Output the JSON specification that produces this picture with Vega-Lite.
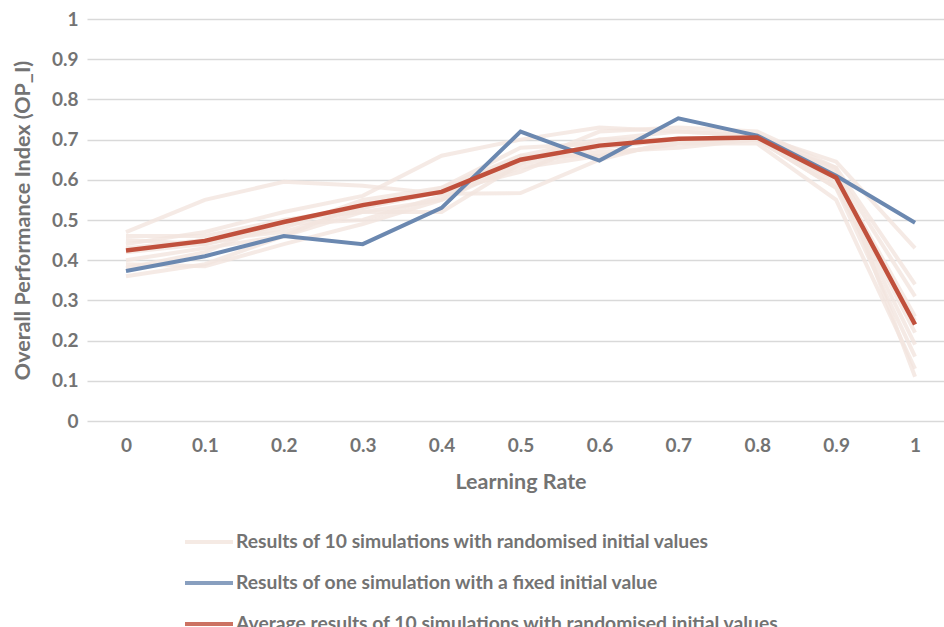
{
  "$schema": "https://vega.github.io/schema/vega-lite/v6.json",
  "width": 857,
  "height": 402,
  "autosize": {"type": "none"},
  "padding": {"left": 87, "top": 19, "right": 0, "bottom": 206},
  "background": "white",
  "config": {
    "view": {"stroke": null},
    "font": "Lato",
    "axis": {"labelFont": "Lato", "titleFont": "Lato", "labelColor": "#737373", "titleColor": "#737373", "labelFontWeight": "bold", "titleFontWeight": "bold"},
    "legend": {"labelFont": "Lato", "labelColor": "#737373", "labelFontWeight": "bold"}
  },
  "data": {
    "values": [
      {"lr": 0, "v": 0.47, "s": "Results of 10 simulations with randomised initial values", "r": 1},
      {"lr": 0.1, "v": 0.55, "s": "Results of 10 simulations with randomised initial values", "r": 1},
      {"lr": 0.2, "v": 0.595, "s": "Results of 10 simulations with randomised initial values", "r": 1},
      {"lr": 0.3, "v": 0.585, "s": "Results of 10 simulations with randomised initial values", "r": 1},
      {"lr": 0.4, "v": 0.565, "s": "Results of 10 simulations with randomised initial values", "r": 1},
      {"lr": 0.5, "v": 0.567, "s": "Results of 10 simulations with randomised initial values", "r": 1},
      {"lr": 0.6, "v": 0.65, "s": "Results of 10 simulations with randomised initial values", "r": 1},
      {"lr": 0.7, "v": 0.7, "s": "Results of 10 simulations with randomised initial values", "r": 1},
      {"lr": 0.8, "v": 0.7, "s": "Results of 10 simulations with randomised initial values", "r": 1},
      {"lr": 0.9, "v": 0.58, "s": "Results of 10 simulations with randomised initial values", "r": 1},
      {"lr": 1, "v": 0.25, "s": "Results of 10 simulations with randomised initial values", "r": 1},
      {"lr": 0, "v": 0.44, "s": "Results of 10 simulations with randomised initial values", "r": 2},
      {"lr": 0.1, "v": 0.47, "s": "Results of 10 simulations with randomised initial values", "r": 2},
      {"lr": 0.2, "v": 0.52, "s": "Results of 10 simulations with randomised initial values", "r": 2},
      {"lr": 0.3, "v": 0.56, "s": "Results of 10 simulations with randomised initial values", "r": 2},
      {"lr": 0.4, "v": 0.66, "s": "Results of 10 simulations with randomised initial values", "r": 2},
      {"lr": 0.5, "v": 0.7, "s": "Results of 10 simulations with randomised initial values", "r": 2},
      {"lr": 0.6, "v": 0.73, "s": "Results of 10 simulations with randomised initial values", "r": 2},
      {"lr": 0.7, "v": 0.72, "s": "Results of 10 simulations with randomised initial values", "r": 2},
      {"lr": 0.8, "v": 0.71, "s": "Results of 10 simulations with randomised initial values", "r": 2},
      {"lr": 0.9, "v": 0.645, "s": "Results of 10 simulations with randomised initial values", "r": 2},
      {"lr": 1, "v": 0.43, "s": "Results of 10 simulations with randomised initial values", "r": 2},
      {"lr": 0, "v": 0.46, "s": "Results of 10 simulations with randomised initial values", "r": 3},
      {"lr": 0.1, "v": 0.46, "s": "Results of 10 simulations with randomised initial values", "r": 3},
      {"lr": 0.2, "v": 0.5, "s": "Results of 10 simulations with randomised initial values", "r": 3},
      {"lr": 0.3, "v": 0.52, "s": "Results of 10 simulations with randomised initial values", "r": 3},
      {"lr": 0.4, "v": 0.52, "s": "Results of 10 simulations with randomised initial values", "r": 3},
      {"lr": 0.5, "v": 0.64, "s": "Results of 10 simulations with randomised initial values", "r": 3},
      {"lr": 0.6, "v": 0.72, "s": "Results of 10 simulations with randomised initial values", "r": 3},
      {"lr": 0.7, "v": 0.73, "s": "Results of 10 simulations with randomised initial values", "r": 3},
      {"lr": 0.8, "v": 0.72, "s": "Results of 10 simulations with randomised initial values", "r": 3},
      {"lr": 0.9, "v": 0.63, "s": "Results of 10 simulations with randomised initial values", "r": 3},
      {"lr": 1, "v": 0.34, "s": "Results of 10 simulations with randomised initial values", "r": 3},
      {"lr": 0, "v": 0.45, "s": "Results of 10 simulations with randomised initial values", "r": 4},
      {"lr": 0.1, "v": 0.44, "s": "Results of 10 simulations with randomised initial values", "r": 4},
      {"lr": 0.2, "v": 0.48, "s": "Results of 10 simulations with randomised initial values", "r": 4},
      {"lr": 0.3, "v": 0.55, "s": "Results of 10 simulations with randomised initial values", "r": 4},
      {"lr": 0.4, "v": 0.58, "s": "Results of 10 simulations with randomised initial values", "r": 4},
      {"lr": 0.5, "v": 0.66, "s": "Results of 10 simulations with randomised initial values", "r": 4},
      {"lr": 0.6, "v": 0.7, "s": "Results of 10 simulations with randomised initial values", "r": 4},
      {"lr": 0.7, "v": 0.7, "s": "Results of 10 simulations with randomised initial values", "r": 4},
      {"lr": 0.8, "v": 0.71, "s": "Results of 10 simulations with randomised initial values", "r": 4},
      {"lr": 0.9, "v": 0.62, "s": "Results of 10 simulations with randomised initial values", "r": 4},
      {"lr": 1, "v": 0.31, "s": "Results of 10 simulations with randomised initial values", "r": 4},
      {"lr": 0, "v": 0.43, "s": "Results of 10 simulations with randomised initial values", "r": 5},
      {"lr": 0.1, "v": 0.45, "s": "Results of 10 simulations with randomised initial values", "r": 5},
      {"lr": 0.2, "v": 0.47, "s": "Results of 10 simulations with randomised initial values", "r": 5},
      {"lr": 0.3, "v": 0.53, "s": "Results of 10 simulations with randomised initial values", "r": 5},
      {"lr": 0.4, "v": 0.58, "s": "Results of 10 simulations with randomised initial values", "r": 5},
      {"lr": 0.5, "v": 0.68, "s": "Results of 10 simulations with randomised initial values", "r": 5},
      {"lr": 0.6, "v": 0.69, "s": "Results of 10 simulations with randomised initial values", "r": 5},
      {"lr": 0.7, "v": 0.7, "s": "Results of 10 simulations with randomised initial values", "r": 5},
      {"lr": 0.8, "v": 0.7, "s": "Results of 10 simulations with randomised initial values", "r": 5},
      {"lr": 0.9, "v": 0.61, "s": "Results of 10 simulations with randomised initial values", "r": 5},
      {"lr": 1, "v": 0.26, "s": "Results of 10 simulations with randomised initial values", "r": 5},
      {"lr": 0, "v": 0.42, "s": "Results of 10 simulations with randomised initial values", "r": 6},
      {"lr": 0.1, "v": 0.44, "s": "Results of 10 simulations with randomised initial values", "r": 6},
      {"lr": 0.2, "v": 0.49, "s": "Results of 10 simulations with randomised initial values", "r": 6},
      {"lr": 0.3, "v": 0.5, "s": "Results of 10 simulations with randomised initial values", "r": 6},
      {"lr": 0.4, "v": 0.56, "s": "Results of 10 simulations with randomised initial values", "r": 6},
      {"lr": 0.5, "v": 0.63, "s": "Results of 10 simulations with randomised initial values", "r": 6},
      {"lr": 0.6, "v": 0.66, "s": "Results of 10 simulations with randomised initial values", "r": 6},
      {"lr": 0.7, "v": 0.69, "s": "Results of 10 simulations with randomised initial values", "r": 6},
      {"lr": 0.8, "v": 0.7, "s": "Results of 10 simulations with randomised initial values", "r": 6},
      {"lr": 0.9, "v": 0.6, "s": "Results of 10 simulations with randomised initial values", "r": 6},
      {"lr": 1, "v": 0.22, "s": "Results of 10 simulations with randomised initial values", "r": 6},
      {"lr": 0, "v": 0.4, "s": "Results of 10 simulations with randomised initial values", "r": 7},
      {"lr": 0.1, "v": 0.43, "s": "Results of 10 simulations with randomised initial values", "r": 7},
      {"lr": 0.2, "v": 0.46, "s": "Results of 10 simulations with randomised initial values", "r": 7},
      {"lr": 0.3, "v": 0.54, "s": "Results of 10 simulations with randomised initial values", "r": 7},
      {"lr": 0.4, "v": 0.57, "s": "Results of 10 simulations with randomised initial values", "r": 7},
      {"lr": 0.5, "v": 0.62, "s": "Results of 10 simulations with randomised initial values", "r": 7},
      {"lr": 0.6, "v": 0.7, "s": "Results of 10 simulations with randomised initial values", "r": 7},
      {"lr": 0.7, "v": 0.72, "s": "Results of 10 simulations with randomised initial values", "r": 7},
      {"lr": 0.8, "v": 0.71, "s": "Results of 10 simulations with randomised initial values", "r": 7},
      {"lr": 0.9, "v": 0.59, "s": "Results of 10 simulations with randomised initial values", "r": 7},
      {"lr": 1, "v": 0.19, "s": "Results of 10 simulations with randomised initial values", "r": 7},
      {"lr": 0, "v": 0.39, "s": "Results of 10 simulations with randomised initial values", "r": 8},
      {"lr": 0.1, "v": 0.385, "s": "Results of 10 simulations with randomised initial values", "r": 8},
      {"lr": 0.2, "v": 0.44, "s": "Results of 10 simulations with randomised initial values", "r": 8},
      {"lr": 0.3, "v": 0.49, "s": "Results of 10 simulations with randomised initial values", "r": 8},
      {"lr": 0.4, "v": 0.55, "s": "Results of 10 simulations with randomised initial values", "r": 8},
      {"lr": 0.5, "v": 0.64, "s": "Results of 10 simulations with randomised initial values", "r": 8},
      {"lr": 0.6, "v": 0.67, "s": "Results of 10 simulations with randomised initial values", "r": 8},
      {"lr": 0.7, "v": 0.68, "s": "Results of 10 simulations with randomised initial values", "r": 8},
      {"lr": 0.8, "v": 0.7, "s": "Results of 10 simulations with randomised initial values", "r": 8},
      {"lr": 0.9, "v": 0.58, "s": "Results of 10 simulations with randomised initial values", "r": 8},
      {"lr": 1, "v": 0.16, "s": "Results of 10 simulations with randomised initial values", "r": 8},
      {"lr": 0, "v": 0.38, "s": "Results of 10 simulations with randomised initial values", "r": 9},
      {"lr": 0.1, "v": 0.42, "s": "Results of 10 simulations with randomised initial values", "r": 9},
      {"lr": 0.2, "v": 0.5, "s": "Results of 10 simulations with randomised initial values", "r": 9},
      {"lr": 0.3, "v": 0.53, "s": "Results of 10 simulations with randomised initial values", "r": 9},
      {"lr": 0.4, "v": 0.57, "s": "Results of 10 simulations with randomised initial values", "r": 9},
      {"lr": 0.5, "v": 0.66, "s": "Results of 10 simulations with randomised initial values", "r": 9},
      {"lr": 0.6, "v": 0.66, "s": "Results of 10 simulations with randomised initial values", "r": 9},
      {"lr": 0.7, "v": 0.69, "s": "Results of 10 simulations with randomised initial values", "r": 9},
      {"lr": 0.8, "v": 0.69, "s": "Results of 10 simulations with randomised initial values", "r": 9},
      {"lr": 0.9, "v": 0.55, "s": "Results of 10 simulations with randomised initial values", "r": 9},
      {"lr": 1, "v": 0.13, "s": "Results of 10 simulations with randomised initial values", "r": 9},
      {"lr": 0, "v": 0.36, "s": "Results of 10 simulations with randomised initial values", "r": 10},
      {"lr": 0.1, "v": 0.39, "s": "Results of 10 simulations with randomised initial values", "r": 10},
      {"lr": 0.2, "v": 0.46, "s": "Results of 10 simulations with randomised initial values", "r": 10},
      {"lr": 0.3, "v": 0.52, "s": "Results of 10 simulations with randomised initial values", "r": 10},
      {"lr": 0.4, "v": 0.55, "s": "Results of 10 simulations with randomised initial values", "r": 10},
      {"lr": 0.5, "v": 0.65, "s": "Results of 10 simulations with randomised initial values", "r": 10},
      {"lr": 0.6, "v": 0.68, "s": "Results of 10 simulations with randomised initial values", "r": 10},
      {"lr": 0.7, "v": 0.7, "s": "Results of 10 simulations with randomised initial values", "r": 10},
      {"lr": 0.8, "v": 0.7, "s": "Results of 10 simulations with randomised initial values", "r": 10},
      {"lr": 0.9, "v": 0.63, "s": "Results of 10 simulations with randomised initial values", "r": 10},
      {"lr": 1, "v": 0.11, "s": "Results of 10 simulations with randomised initial values", "r": 10},
      {"lr": 0, "v": 0.373, "s": "Results of one simulation with a fixed initial value", "r": 11},
      {"lr": 0.1, "v": 0.41, "s": "Results of one simulation with a fixed initial value", "r": 11},
      {"lr": 0.2, "v": 0.46, "s": "Results of one simulation with a fixed initial value", "r": 11},
      {"lr": 0.3, "v": 0.44, "s": "Results of one simulation with a fixed initial value", "r": 11},
      {"lr": 0.4, "v": 0.53, "s": "Results of one simulation with a fixed initial value", "r": 11},
      {"lr": 0.5, "v": 0.72, "s": "Results of one simulation with a fixed initial value", "r": 11},
      {"lr": 0.6, "v": 0.648, "s": "Results of one simulation with a fixed initial value", "r": 11},
      {"lr": 0.7, "v": 0.753, "s": "Results of one simulation with a fixed initial value", "r": 11},
      {"lr": 0.8, "v": 0.71, "s": "Results of one simulation with a fixed initial value", "r": 11},
      {"lr": 0.9, "v": 0.61, "s": "Results of one simulation with a fixed initial value", "r": 11},
      {"lr": 1, "v": 0.493, "s": "Results of one simulation with a fixed initial value", "r": 11},
      {"lr": 0, "v": 0.424, "s": "Average results of 10 simulations with randomised initial values", "r": 12},
      {"lr": 0.1, "v": 0.448, "s": "Average results of 10 simulations with randomised initial values", "r": 12},
      {"lr": 0.2, "v": 0.495, "s": "Average results of 10 simulations with randomised initial values", "r": 12},
      {"lr": 0.3, "v": 0.537, "s": "Average results of 10 simulations with randomised initial values", "r": 12},
      {"lr": 0.4, "v": 0.57, "s": "Average results of 10 simulations with randomised initial values", "r": 12},
      {"lr": 0.5, "v": 0.65, "s": "Average results of 10 simulations with randomised initial values", "r": 12},
      {"lr": 0.6, "v": 0.685, "s": "Average results of 10 simulations with randomised initial values", "r": 12},
      {"lr": 0.7, "v": 0.702, "s": "Average results of 10 simulations with randomised initial values", "r": 12},
      {"lr": 0.8, "v": 0.705, "s": "Average results of 10 simulations with randomised initial values", "r": 12},
      {"lr": 0.9, "v": 0.605, "s": "Average results of 10 simulations with randomised initial values", "r": 12},
      {"lr": 1, "v": 0.24, "s": "Average results of 10 simulations with randomised initial values", "r": 12}
    ]
  },
  "encoding": {
    "x": {
      "field": "lr", "type": "quantitative",
      "scale": {"domain": [-0.0494, 1.0367], "nice": false, "zero": false},
      "axis": {
        "title": "Learning Rate", "values": [0, 0.1, 0.2, 0.3, 0.4, 0.5, 0.6, 0.7, 0.8, 0.9, 1],
        "format": "~g", "grid": false, "domain": false, "ticks": false, "tickSize": 0,
        "labelFontSize": 19, "labelPadding": 15, "titleFontSize": 21.5,
        "titleX": 433.5, "titleY": 61, "titleBaseline": "middle", "titleAnchor": null
      }
    },
    "y": {
      "field": "v", "type": "quantitative",
      "scale": {"domain": [0, 1], "nice": false},
      "axis": {
        "title": "Overall Performance Index (OP_I)", "values": [0, 0.1, 0.2, 0.3, 0.4, 0.5, 0.6, 0.7, 0.8, 0.9, 1],
        "format": "~g", "grid": true, "gridColor": "#d9d9d9", "gridWidth": 1.5, "domain": false, "ticks": false, "tickSize": 0,
        "labelFontSize": 19, "labelPadding": 9, "titleFontSize": 21.5,
        "titleX": -64, "titleY": 201, "titleAngle": -90, "titleAlign": "center", "titleBaseline": "middle"
      }
    },
    "color": {
      "field": "s", "type": "nominal",
      "scale": {
        "domain": ["Results of 10 simulations with randomised initial values", "Results of one simulation with a fixed initial value", "Average results of 10 simulations with randomised initial values"],
        "range": ["#f3e5de", "#6b88b0", "#c0503c"]
      },
      "legend": {
        "title": null, "orient": "none", "legendX": 96, "legendY": 497, "direction": "vertical",
        "symbolType": "stroke", "symbolSize": 2304, "symbolStrokeWidth": 4,
        "labelFontSize": 19.3, "labelOffset": 1, "rowPadding": 4, "labelLimit": 0
      }
    },
    "detail": {"field": "r", "type": "nominal"}
  },
  "layer": [
    {"transform": [{"filter": "datum.r <= 10"}], "mark": {"type": "line", "strokeWidth": 4, "opacity": 0.8}},
    {"transform": [{"filter": "datum.r == 11"}], "mark": {"type": "line", "strokeWidth": 4}},
    {"transform": [{"filter": "datum.r == 12"}], "mark": {"type": "line", "strokeWidth": 4.5}}
  ]
}
